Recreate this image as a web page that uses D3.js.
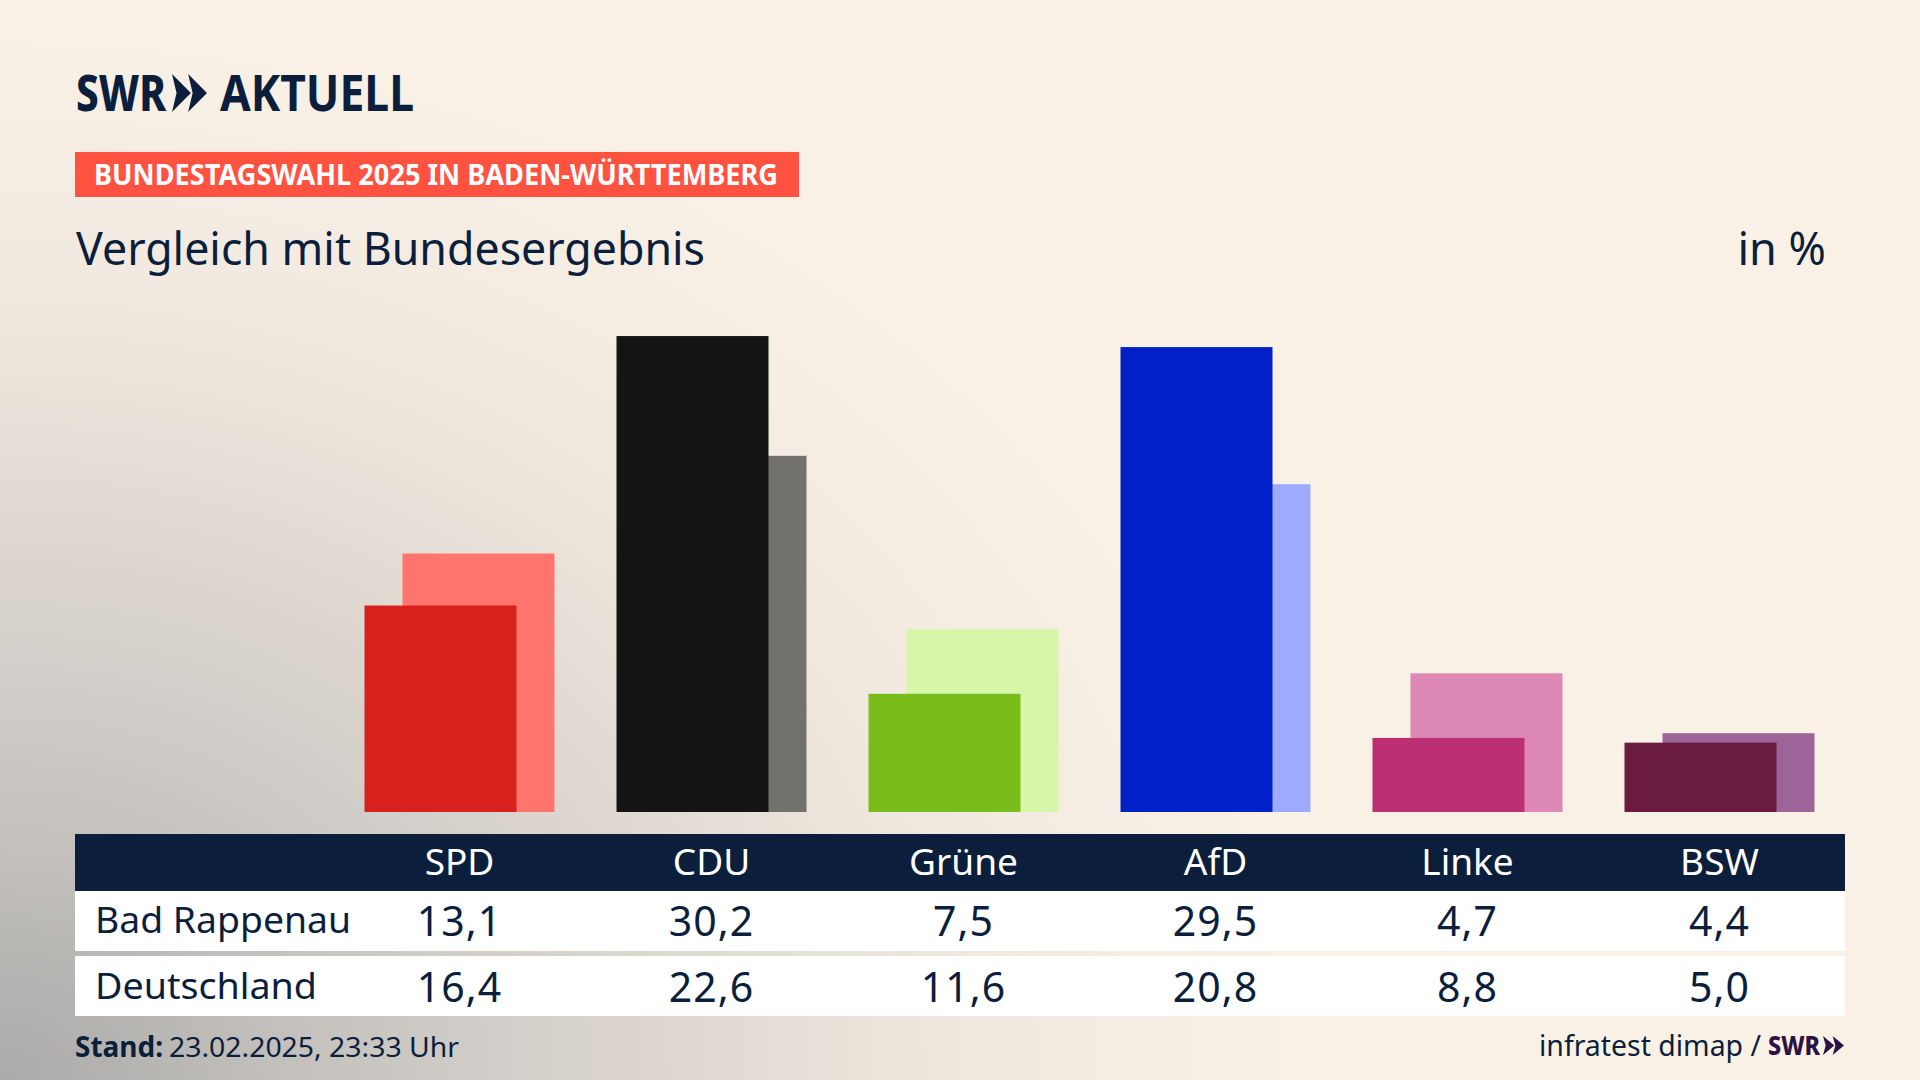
<!DOCTYPE html>
<html lang="de">
<head>
<meta charset="utf-8">
<title>Vergleich mit Bundesergebnis</title>
<script src="https://cdn.jsdelivr.net/npm/d3@7"></script>
<style>
    html, body { margin: 0; padding: 0; background: #f9f1e6; }
    svg { display: block; }
    text { font-family: "Noto Sans", sans-serif; fill: #0b1f3d; }
</style>
</head>
<body>
<div id="chart"></div>
<script>
// Chart data
const parties = ['SPD', 'CDU', 'Grüne', 'AfD', 'Linke', 'BSW'];
const localValues = [13.1, 30.2, 7.5, 29.5, 4.7, 4.4];
const nationalValues = [16.4, 22.6, 11.6, 20.8, 8.8, 5.0];
const rowLabels = ['Bad Rappenau', 'Deutschland'];
const frontColors = ['#d8201c', '#141414', '#7abc1a', '#0220c8', '#bc2f75', '#6b1a40'];
const backColors = ['#ff746c', '#73716e', '#d8f6a8', '#9eaaff', '#de88b6', '#9d6499'];

const width = 1920, height = 1080;
const navy = '#0b1f3d';

const svg = d3.select('#chart').append('svg')
    .attr('width', width)
    .attr('height', height)
    .attr('viewBox', [0, 0, width, height]);

// Background glow from the lower left corner, wider than it is high
const grad = svg.append('defs').append('radialGradient')
    .attr('id', 'bg')
    .attr('gradientUnits', 'userSpaceOnUse')
    .attr('cx', 0).attr('cy', 0).attr('r', 1)
    .attr('gradientTransform', 'translate(0,1080) scale(1300,1050)');
[[0, '#abaaa9'], [0.25, '#c6c3bf'], [0.5, '#dcd6cf'], [0.75, '#f1e9df'], [1, '#f9f1e6']]
    .forEach(([o, c]) => grad.append('stop').attr('offset', o).attr('stop-color', c));
svg.append('rect').attr('width', width).attr('height', height).attr('fill', 'url(#bg)');

// Text helper, textLength squeezes the font to the condensed look of the original
function label(x, y, str, size, opts = {}) {
    const t = svg.append('text')
        .attr('x', x).attr('y', y)
        .attr('font-size', size)
        .attr('font-weight', opts.weight || 400)
        .attr('text-anchor', opts.anchor || 'start')
        .style('fill', opts.fill || navy)
        .text(str);
    if (opts.len) t.attr('textLength', opts.len).attr('lengthAdjust', 'spacingAndGlyphs');
    if (opts.spacing) t.attr('letter-spacing', opts.spacing);
    return t;
}

// Two chevrons of the SWR logo
function chevrons(x, y, w, h, fill) {
    [0, w * 0.46].forEach(dx => {
        const p = d3.path();
        p.moveTo(x + dx, y);
        p.lineTo(x + dx + w * 0.54, y + h / 2);
        p.lineTo(x + dx, y + h);
        p.lineTo(x + dx + w * 0.13, y + h / 2);
        p.closePath();
        svg.append('path').attr('d', p.toString()).attr('fill', fill);
    });
}

// Header
label(76, 111, 'SWR', 50, { weight: 800, len: 90 });
chevrons(172, 74, 35, 38, navy);
label(220, 111, 'AKTUELL', 50, { weight: 700, len: 194 });

svg.append('rect').attr('x', 75).attr('y', 152).attr('width', 724).attr('height', 45).attr('fill', '#ff5240');
label(94, 185, 'BUNDESTAGSWAHL 2025 IN BADEN-WÜRTTEMBERG', 29, { weight: 700, fill: '#fff', len: 684 });

label(76, 265, 'Vergleich mit Bundesergebnis', 45, { len: 629 });
label(1826, 265, 'in %', 45, { anchor: 'end' });

// Scales
const x = d3.scaleBand().domain(parties).range([333.5, 1845.5]);
const y = d3.scaleLinear().domain([0, 30]).range([812, 339.2]);
const barWidth = 152, barOffset = 38;
const barLeft = d => x(d) + x.bandwidth() / 2 - (barWidth + barOffset) / 2;

// Bars, national result behind the local one
svg.append('g').selectAll('rect')
    .data(parties)
    .join('rect')
    .attr('x', d => barLeft(d) + barOffset)
    .attr('y', (d, i) => y(nationalValues[i]))
    .attr('width', barWidth)
    .attr('height', (d, i) => y(0) - y(nationalValues[i]))
    .attr('fill', (d, i) => backColors[i]);

svg.append('g').selectAll('rect')
    .data(parties)
    .join('rect')
    .attr('x', d => barLeft(d))
    .attr('y', (d, i) => y(localValues[i]))
    .attr('width', barWidth)
    .attr('height', (d, i) => y(0) - y(localValues[i]))
    .attr('fill', (d, i) => frontColors[i]);

// Table below the bars
const fmt = d3.formatLocale({ decimal: ',', thousands: '.', grouping: [3], currency: ['', '€'] }).format('.1f');

svg.append('rect').attr('x', 75).attr('y', 834).attr('width', 1770).attr('height', 57).attr('fill', navy);
svg.append('rect').attr('x', 75).attr('y', 891).attr('width', 1770).attr('height', 60).attr('fill', '#fff');
svg.append('rect').attr('x', 75).attr('y', 956).attr('width', 1770).attr('height', 60).attr('fill', '#fff');

parties.forEach((d, i) => {
    const cx = x(d) + x.bandwidth() / 2;
    label(cx, 875, d, 37, { anchor: 'middle', fill: '#fff' });
    label(cx, 936, fmt(localValues[i]), 41, { anchor: 'middle', spacing: 1 });
    label(cx, 1002, fmt(nationalValues[i]), 41, { anchor: 'middle', spacing: 1 });
});
label(95, 933, rowLabels[0], 37, { len: 256 });
label(95, 999, rowLabels[1], 37, { len: 222 });

// Footer
label(75, 1057, 'Stand:', 28, { weight: 700, len: 88 });
label(169, 1057, '23.02.2025, 23:33 Uhr', 28, { len: 290 });
label(1539, 1056, 'infratest dimap /', 29, { len: 222 });
label(1768, 1055, 'SWR', 27, { weight: 800, fill: '#2a1245', len: 52 });
chevrons(1823, 1036, 21, 19, '#2a1245');
</script>
</body>
</html>
